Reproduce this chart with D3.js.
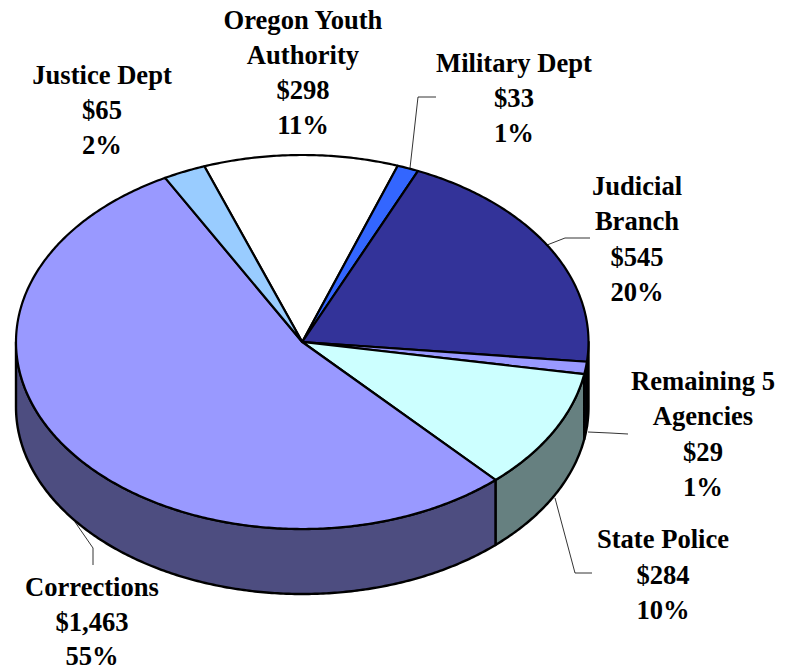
<!DOCTYPE html>
<html>
<head>
<meta charset="utf-8">
<style>html,body{margin:0;padding:0;background:#fff}svg{display:block}</style>
<script src="https://cdn.jsdelivr.net/npm/d3@7/dist/d3.min.js"></script>
</head>
<body>
<svg id="chart" width="789" height="671"></svg>
<script>
const categories = ["Oregon Youth Authority","Military Dept","Judicial Branch","Remaining 5 Agencies","State Police","Corrections","Justice Dept"];
const values = [298,33,545,29,284,1463,65];
const valueLabels = ["$298","$33","$545","$29","$284","$1,463","$65"];
const percentLabels = ["11%","1%","20%","1%","10%","55%","2%"];
const labelLines = [["Oregon Youth","Authority"],["Military Dept"],["Judicial","Branch"],["Remaining 5","Agencies"],["State Police"],["Corrections"],["Justice Dept"]];
const topColors = ["#ffffff","#3366ff","#333399","#9999ff","#ccffff","#9999ff","#99ccff"];
const wallColors = ["#808080","#1a3380","#0d0d33","#0d0d33","#668080","#4d4d80","#4d6680"];

// layout, kept apart from the data
const labelX = [303,514,637,703,663,92,102];
const labelY = [29,72,195,390,548,596,84];
const lineStep = [35,35,35.3,35.3,35.5,34.5,35];
const leaders = [null,[[410,168],[418,97],[436,97]],[[547,245],[565,238],[590,238]],[[588,432],[610,433],[628,434]],[[555,498],[575,573],[592,573]],[[75,522],[93,548],[93,565]],null];

const svg = d3.select("#chart");
const x = d3.scaleLinear().domain([-1,1]).range([16,588.5]);
const y = d3.scaleLinear().domain([-1,1]).range([155,529]);
const depth = 65;
const startDeg = -20;

const arcs = d3.pie().sort(null).value(d=>d)
  .startAngle(startDeg*Math.PI/180).endAngle((startDeg+360)*Math.PI/180)(values);

const line = d3.line();
const pt = (a,dy=0)=>[x(Math.sin(a)), y(-Math.cos(a))+dy];
const sample = (a0,a1)=>{const n=Math.max(2,Math.ceil(Math.abs(a1-a0)/0.01));return d3.range(n+1).map(i=>a0+(a1-a0)*i/n);};

// walls: only the part of the rim facing the viewer (90deg to 270deg)
const wallLo = Math.PI/2, wallHi = 3*Math.PI/2;
arcs.forEach((d,i)=>{
  const a0 = Math.max(d.startAngle,wallLo), a1 = Math.min(d.endAngle,wallHi);
  if(a1<=a0) return;
  const front = sample(a0,a1).map(a=>pt(a,0));
  const back = sample(a0,a1).reverse().map(a=>pt(a,depth));
  svg.append("path").attr("d",line(front.concat(back))+"Z")
    .attr("fill",wallColors[i]).attr("stroke","#000").attr("stroke-width",2.4).attr("stroke-linejoin","round");
});

// leader lines
leaders.forEach(l=>{ if(l) svg.append("path").attr("d",line(l)).attr("fill","none").attr("stroke","#000").attr("stroke-width",0.8); });

// top faces
arcs.forEach((d,i)=>{
  const c = [x(0),y(0)];
  const rim = sample(d.startAngle,d.endAngle).map(a=>pt(a));
  svg.append("path").attr("d",line([c].concat(rim))+"Z")
    .attr("fill",topColors[i]).attr("stroke","#000").attr("stroke-width",2.2).attr("stroke-linejoin","round");
});

// labels
categories.forEach((c,i)=>{
  const rows = labelLines[i].concat([valueLabels[i],percentLabels[i]]);
  const t = svg.append("text").attr("text-anchor","middle")
    .attr("font-family","'Liberation Serif','Times New Roman',serif")
    .attr("font-weight","bold").attr("font-size",26.6).attr("fill","#000");
  rows.forEach((r,j)=>t.append("tspan").attr("x",labelX[i]).attr("y",labelY[i]+j*lineStep[i]).text(r));
});
</script>
</body>
</html>
